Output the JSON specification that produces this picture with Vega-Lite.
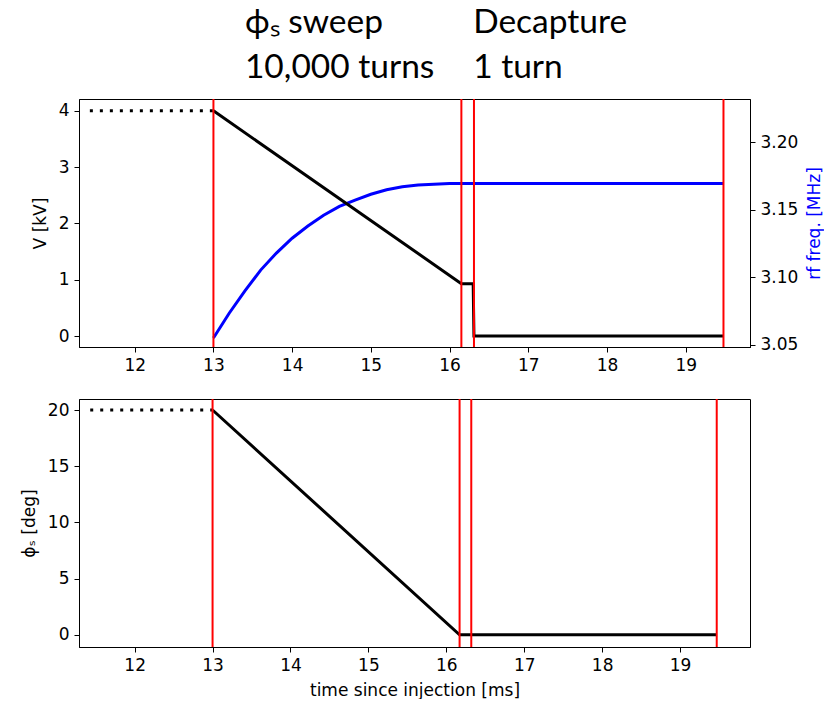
{
  "$schema": "https://vega.github.io/schema/vega-lite/v6.json",
  "padding": {"left": 19, "top": 0, "right": 0, "bottom": 0},
  "background": "white",
  "config": {
    "font": "DejaVu Sans",
    "axis": {"grid": false, "domainColor": "black", "domainWidth": 1, "tickColor": "black", "tickWidth": 1, "tickSize": 5, "labelColor": "#000000", "titleColor": "#000000", "labelFontSize": 17, "titleFontSize": 17, "titleFontWeight": "normal", "labelPadding": 5, "titlePadding": 9, "labelFont": "DejaVu Sans", "titleFont": "DejaVu Sans"},
    "view": {"stroke": "black", "strokeWidth": 1}
  },
  "datasets": {
    "header": [
      {"t": 13.40, "row": "1", "label": "ϕₛ sweep"},
      {"t": 13.40, "row": "2", "label": "10,000 turns"},
      {"t": 16.30, "row": "1", "label": "Decapture"},
      {"t": 16.30, "row": "2", "label": "1 turn"}
    ],
    "vDotted": [{"t": 11.43, "v": 4}, {"t": 13.0, "v": 4}],
    "vSolid": [{"t": 13.0, "v": 4}, {"t": 16.15, "v": 0.93}, {"t": 16.30, "v": 0.93}, {"t": 16.31, "v": 0.0}, {"t": 19.48, "v": 0.0}],
    "freq": [
      {"t": 13.0, "f": 3.0552}, {"t": 13.2, "f": 3.0735}, {"t": 13.4, "f": 3.0900}, {"t": 13.6, "f": 3.1054},
      {"t": 13.8, "f": 3.1180}, {"t": 14.0, "f": 3.1290}, {"t": 14.2, "f": 3.1380}, {"t": 14.4, "f": 3.1460},
      {"t": 14.6, "f": 3.1525}, {"t": 14.8, "f": 3.1572}, {"t": 15.0, "f": 3.1615}, {"t": 15.2, "f": 3.1648},
      {"t": 15.4, "f": 3.1670}, {"t": 15.6, "f": 3.1683}, {"t": 15.8, "f": 3.1690}, {"t": 16.0, "f": 3.1694},
      {"t": 16.2, "f": 3.1695}, {"t": 19.48, "f": 3.1695}
    ],
    "topRules": [{"t": 13.0}, {"t": 16.15}, {"t": 16.31}, {"t": 19.48}],
    "phiDotted": [{"t": 11.43, "p": 20}, {"t": 13.0, "p": 20}],
    "phiSolid": [{"t": 13.0, "p": 20}, {"t": 16.17, "p": 0}, {"t": 19.47, "p": 0}],
    "botRules": [{"t": 13.0}, {"t": 16.17}, {"t": 16.32}, {"t": 19.47}]
  },
  "spacing": 7,
  "vconcat": [
    {
      "width": 671,
      "height": 90,
      "view": {"stroke": null},
      "data": {"name": "header"},
      "mark": {"type": "text", "align": "left", "baseline": "middle", "font": "Lato", "fontSize": 33.5, "color": "black"},
      "encoding": {
        "x": {"field": "t", "type": "quantitative", "scale": {"domain": [11.292, 19.817], "nice": false, "zero": false}, "axis": null},
        "y": {"field": "row", "type": "ordinal", "scale": {"type": "point", "padding": 0.5}, "axis": null},
        "text": {"field": "label"}
      }
    },
    {
      "spacing": 23,
      "resolve": {"scale": {"x": "independent"}},
      "vconcat": [
        {
          "width": 671,
          "height": 248,
          "resolve": {"scale": {"y": "independent"}},
          "layer": [
            {
              "data": {"name": "freq"},
              "mark": {"type": "line", "color": "#0000ff", "strokeWidth": 3},
              "encoding": {
                "x": {"field": "t", "type": "quantitative", "scale": {"domain": [11.292, 19.817], "nice": false, "zero": false}, "axis": {"values": [12, 13, 14, 15, 16, 17, 18, 19], "format": "d", "title": null}},
                "y": {"field": "f", "type": "quantitative", "scale": {"domain": [3.0485, 3.232], "nice": false, "zero": false}, "axis": {"orient": "right", "values": [3.05, 3.1, 3.15, 3.2], "format": ".2f", "title": "rf freq. [MHz]", "titleColor": "#0000ff", "titleAngle": -90, "titleBaseline": "top"}}
              }
            },
            {
              "encoding": {
                "x": {"field": "t", "type": "quantitative"},
                "y": {"field": "v", "type": "quantitative", "scale": {"domain": [-0.195, 4.21], "nice": false, "zero": false}, "axis": {"orient": "left", "values": [0, 1, 2, 3, 4], "title": "V [kV]"}}
              },
              "layer": [
                {"data": {"name": "vDotted"}, "mark": {"type": "line", "color": "black", "strokeWidth": 3, "strokeDash": [3, 7], "strokeCap": "butt"}},
                {"data": {"name": "vSolid"}, "mark": {"type": "line", "color": "black", "strokeWidth": 3}}
              ]
            },
            {
              "data": {"name": "topRules"},
              "mark": {"type": "rule", "color": "#ff0000", "strokeWidth": 2},
              "encoding": {"x": {"field": "t", "type": "quantitative"}}
            }
          ]
        },
        {
          "width": 671,
          "height": 248,
          "encoding": {
            "x": {"field": "t", "type": "quantitative", "scale": {"domain": [11.286, 19.897], "nice": false, "zero": false}, "axis": {"values": [12, 13, 14, 15, 16, 17, 18, 19], "format": "d", "title": "time since injection [ms]"}}
          },
          "layer": [
            {
              "encoding": {
                "y": {"field": "p", "type": "quantitative", "scale": {"domain": [-1.09, 20.98], "nice": false, "zero": false}, "axis": {"values": [0, 5, 10, 15, 20], "title": "ϕₛ [deg]"}}
              },
              "layer": [
                {"data": {"name": "phiDotted"}, "mark": {"type": "line", "color": "black", "strokeWidth": 3, "strokeDash": [3, 7], "strokeCap": "butt"}},
                {"data": {"name": "phiSolid"}, "mark": {"type": "line", "color": "black", "strokeWidth": 3}}
              ]
            },
            {
              "data": {"name": "botRules"},
              "mark": {"type": "rule", "color": "#ff0000", "strokeWidth": 2},
              "encoding": {}
            }
          ]
        }
      ]
    }
  ]
}
